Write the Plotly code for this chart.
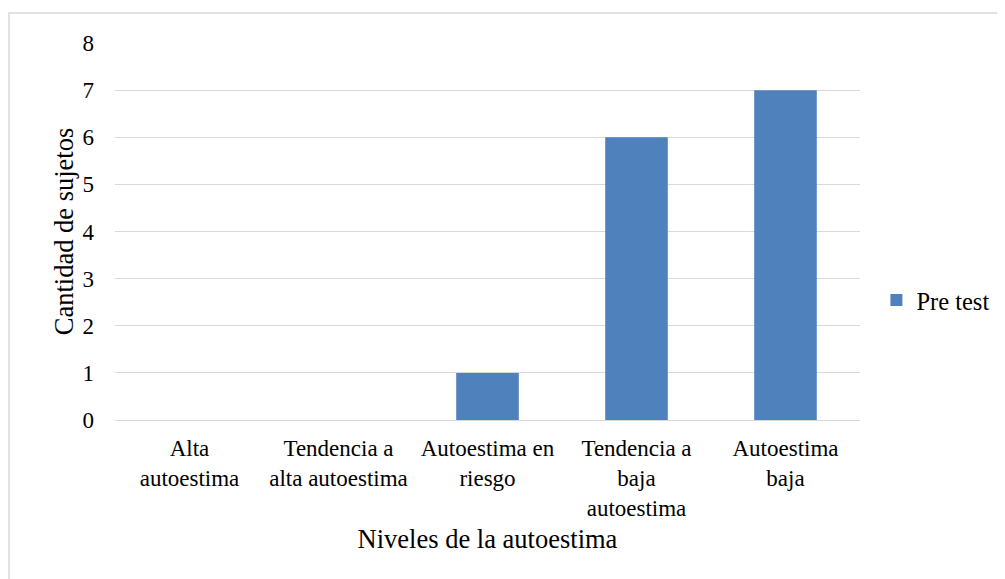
import plotly.graph_objects as go

# Niveles de autoestima (pre test)
categorias = [
    "Alta<br>autoestima",
    "Tendencia a<br>alta autoestima",
    "Autoestima en<br>riesgo",
    "Tendencia a<br>baja<br>autoestima",
    "Autoestima<br>baja",
]
pre_test = [0, 0, 1, 6, 7]

familia = "Liberation Serif, Times New Roman, serif"
fuente_titulo = dict(family=familia, size=26.5, color="#000000")
fuente_ticks = dict(family=familia, size=23, color="#000000")
fuente_leyenda = dict(family=familia, size=24.5, color="#000000")

fig = go.Figure()
fig.add_trace(go.Bar(
    x=categorias,
    y=pre_test,
    name="Pre test",
    marker=dict(color="#4F81BD", line=dict(width=0)),
))

# la página tiene ~8px de margen en body, se compensa en los márgenes
fig.update_layout(
    width=1005,
    height=579,
    margin=dict(l=107, r=153, t=35, b=167),
    paper_bgcolor="white",
    plot_bgcolor="white",
    font=fuente_ticks,
    bargap=0.58,
    showlegend=True,
    legend=dict(
        x=1.022, y=0.318, xanchor="left", yanchor="middle",
        font=fuente_leyenda,
    ),
    xaxis=dict(
        title=dict(text="Niveles de la autoestima", standoff=9, font=fuente_titulo),
        tickfont=fuente_ticks,
        showgrid=False,
        showline=False,
        ticks="",
        ticklabelstandoff=12,
        automargin=False,
    ),
    yaxis=dict(
        title=dict(text="Cantidad de sujetos", standoff=1, font=fuente_titulo),
        tickfont=fuente_ticks,
        range=[0, 8],
        dtick=1,
        showgrid=True,
        gridcolor="#D9D9D9",
        gridwidth=1.3,
        zeroline=True,
        zerolinecolor="#D9D9D9",
        zerolinewidth=1.3,
        showline=False,
        ticks="",
        ticklabelstandoff=20,
        automargin=False,
    ),
    shapes=[
        dict(
            type="rect", xref="paper", yref="paper",
            x0=-0.1423, x1=1.4, y0=-0.7, y1=1.0796,
            line=dict(color="#D9D9D9", width=1.5),
            fillcolor="rgba(0,0,0,0)",
            layer="below",
        )
    ],
)

fig.write_html("out.html")
